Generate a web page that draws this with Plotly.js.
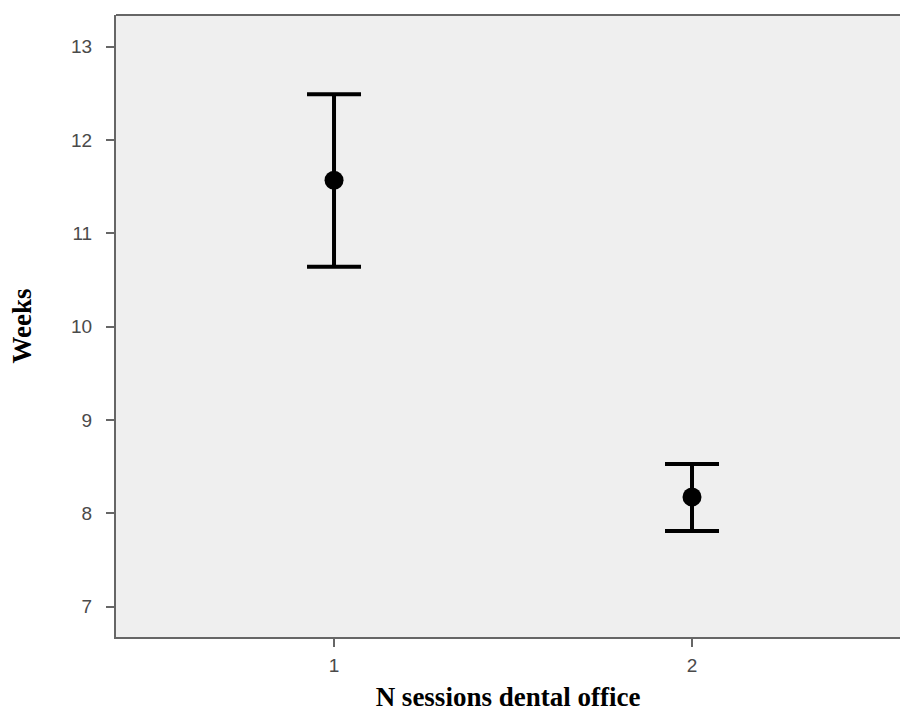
<!DOCTYPE html>
<html>
<head>
<meta charset="utf-8">
<script src="https://cdn.plot.ly/plotly-3.0.1.min.js"></script>
<style>html,body{margin:0;padding:0;background:#fff;}#chart{width:900px;height:713px;}</style>
</head>
<body>
<div id="chart"></div>
<script>
var categories = [1, 2];
var means = [11.57, 8.175];
var upper = [12.49, 8.53];
var lower = [10.643, 7.81];
var xTicks = [1, 2];
var yTicks = [7, 8, 9, 10, 11, 12, 13];

var plus = means.map(function (m, i) { return upper[i] - m; });
var minus = means.map(function (m, i) { return m - lower[i]; });

var trace = {
  x: categories,
  y: means,
  type: 'scatter',
  mode: 'markers',
  marker: {color: '#000', size: 19},
  error_y: {type: 'data', symmetric: false, array: plus, arrayminus: minus,
            color: '#000', thickness: 4, width: 27},
  hoverinfo: 'none'
};

var tickFont = {family: 'Liberation Sans, Arial, sans-serif', size: 19, color: '#4a4a4a'};
var titleFont = {family: 'Liberation Serif, Times New Roman, serif', size: 27, color: '#000', weight: 'bold'};

var layout = {
  width: 900, height: 713,
  margin: {l: 116, r: 0, t: 15, b: 76},
  paper_bgcolor: '#fff',
  plot_bgcolor: '#efefef',
  showlegend: false,
  xaxis: {
    range: [0.391, 2.581],
    tickvals: xTicks,
    ticktext: xTicks.map(String),
    ticks: 'outside', ticklen: 8, tickwidth: 2, tickcolor: '#666',
    showline: true, linecolor: '#666', linewidth: 2,
    showgrid: false, zeroline: false,
    tickfont: tickFont,
    ticklabelstandoff: 2,
    title: {text: 'N sessions dental office', font: titleFont, standoff: 12}
  },
  yaxis: {
    range: [6.675, 13.34],
    tickvals: yTicks,
    ticktext: yTicks.map(String),
    ticks: 'outside', ticklen: 8, tickwidth: 2, tickcolor: '#666',
    showline: true, linecolor: '#666', linewidth: 2,
    showgrid: false, zeroline: false,
    tickfont: tickFont,
    ticklabelstandoff: 10,
    title: {text: 'Weeks', font: titleFont, standoff: 32}
  },
  shapes: [{type: 'line', xref: 'paper', yref: 'paper', x0: 0, x1: 1, y0: 1, y1: 1,
            line: {color: '#666', width: 2}}]
};

Plotly.newPlot('chart', [trace], layout, {displayModeBar: false, staticPlot: true});
</script>
</body>
</html>
